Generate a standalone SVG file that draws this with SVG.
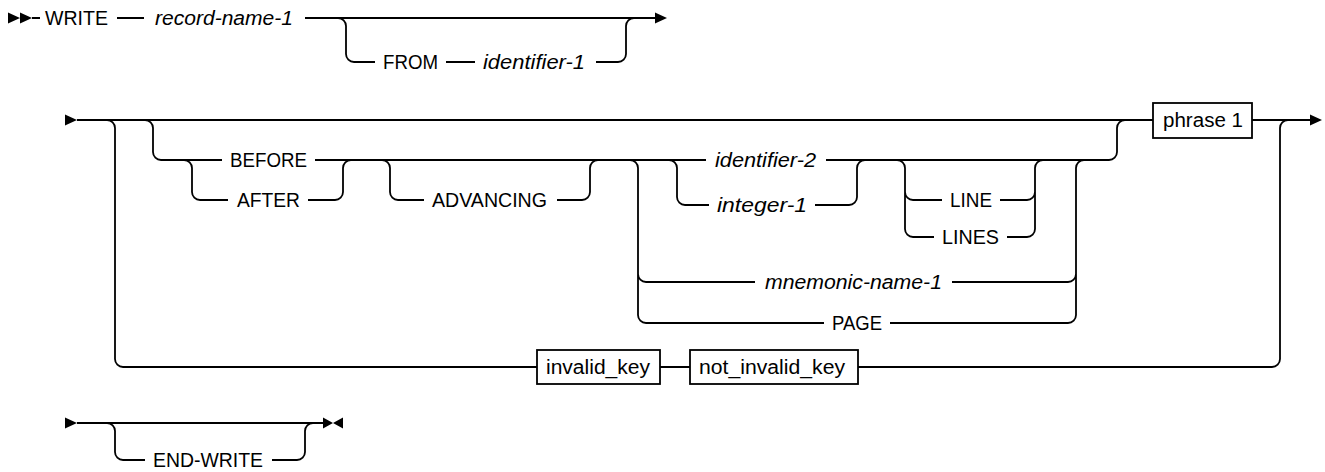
<svg xmlns="http://www.w3.org/2000/svg" width="1325" height="472" viewBox="0 0 1325 472">
<style>
.ln{fill:none;stroke:#000;stroke-width:1.8;stroke-linecap:butt}
.mk{fill:#000;stroke:none}
.bx{fill:#fff;stroke:#000;stroke-width:1.8}
text{font-family:"Liberation Sans",Arial,sans-serif;font-size:20px;fill:#000}
.it{font-style:italic}
</style>
<g id="connectors">
<!-- row 1 -->
<path class="ln" d="M32 18 L40 18 M117 18 L144 18 M305 18 L655 18"/>
<path class="ln" d="M338 18 A8 8 0 0 1 346 26 L346 54 A8 8 0 0 0 354 62 L375 62"/>
<path class="ln" d="M446 62 L475 62 M596 62 L618 62 A8 8 0 0 0 626 54 L626 26 A8 8 0 0 1 634 18"/>
<!-- row 2 main -->
<path class="ln" d="M77 120 L1153 120 M1252 120 L1310 120"/>
<!-- bottom bypass -->
<path class="ln" d="M107 120 A8 8 0 0 1 115 128 L115 359 A8 8 0 0 0 123 367 L537 367 M660 367 L690 367 M858 367 L1272 367 A8 8 0 0 0 1280 359 L1280 128 A8 8 0 0 1 1288 120"/>
<!-- big optional -->
<path class="ln" d="M145 120 A8 8 0 0 1 153 128 L153 152 A8 8 0 0 0 161 160 L222 160 M315 160 L706 160 M826 160 L1109 160 A8 8 0 0 0 1117 152 L1117 128 A8 8 0 0 1 1125 120"/>
<!-- AFTER -->
<path class="ln" d="M184 160 A8 8 0 0 1 192 168 L192 192 A8 8 0 0 0 200 200 L228 200 M308 200 L335 200 A8 8 0 0 0 343 192 L343 168 A8 8 0 0 1 351 160"/>
<!-- ADVANCING -->
<path class="ln" d="M382 160 A8 8 0 0 1 390 168 L390 192 A8 8 0 0 0 398 200 L424 200 M557 200 L582 200 A8 8 0 0 0 590 192 L590 168 A8 8 0 0 1 598 160"/>
<!-- mnemonic / PAGE -->
<path class="ln" d="M630 160 A8 8 0 0 1 638 168 L638 315 A8 8 0 0 0 646 323 L824 323 M638 274 A8 8 0 0 0 646 282 L755 282"/>
<path class="ln" d="M952 282 L1068 282 A8 8 0 0 0 1076 274 M890 323 L1068 323 A8 8 0 0 0 1076 315 L1076 168 A8 8 0 0 1 1084 160"/>
<!-- integer-1 -->
<path class="ln" d="M669 160 A8 8 0 0 1 677 168 L677 197 A8 8 0 0 0 685 205 L709 205 M815 205 L849 205 A8 8 0 0 0 857 197 L857 168 A8 8 0 0 1 865 160"/>
<!-- LINE / LINES -->
<path class="ln" d="M897 160 A8 8 0 0 1 905 168 L905 229 A8 8 0 0 0 913 237 L934 237 M905 192 A8 8 0 0 0 913 200 L942 200"/>
<path class="ln" d="M1000 200 L1027 200 A8 8 0 0 0 1035 192 M1007 237 L1027 237 A8 8 0 0 0 1035 229 L1035 168 A8 8 0 0 1 1043 160"/>
<!-- row 3 -->
<path class="ln" d="M77 423 L323 423"/>
<path class="ln" d="M107 423 A8 8 0 0 1 115 431 L115 452 A8 8 0 0 0 123 460 L145 460 M272 460 L297 460 A8 8 0 0 0 305 452 L305 431 A8 8 0 0 1 313 423"/>
<!-- markers -->
<path class="mk" d="M8 12.5 L20 18 L8 23.5 Z M20 12.5 L32 18 L20 23.5 Z"/>
<path class="mk" d="M655 12.5 L667 18 L655 23.5 Z"/>
<path class="mk" d="M65 114.5 L77 120 L65 125.5 Z"/>
<path class="mk" d="M1310 114.5 L1322 120 L1310 125.5 Z"/>
<path class="mk" d="M65 417.5 L77 423 L65 428.5 Z"/>
<path class="mk" d="M323 417.5 L333 423 L323 428.5 Z M343 417.5 L333 423 L343 428.5 Z"/>
</g>
<g id="n-write"><text x="45" y="25" textLength="63" lengthAdjust="spacingAndGlyphs">WRITE</text></g>
<g id="n-record-name-1"><text class="it" x="155" y="25" textLength="138" lengthAdjust="spacingAndGlyphs">record-name-1</text></g>
<g id="n-from"><text x="383" y="69" textLength="55" lengthAdjust="spacingAndGlyphs">FROM</text></g>
<g id="n-identifier-1"><text class="it" x="483" y="69" textLength="102" lengthAdjust="spacingAndGlyphs">identifier-1</text></g>
<g id="n-before"><text x="230" y="167" textLength="77" lengthAdjust="spacingAndGlyphs">BEFORE</text></g>
<g id="n-after"><text x="237" y="207" textLength="63" lengthAdjust="spacingAndGlyphs">AFTER</text></g>
<g id="n-advancing"><text x="432" y="207" textLength="115" lengthAdjust="spacingAndGlyphs">ADVANCING</text></g>
<g id="n-identifier-2"><text class="it" x="715" y="167" textLength="101" lengthAdjust="spacingAndGlyphs">identifier-2</text></g>
<g id="n-integer-1"><text class="it" x="717" y="212" textLength="90" lengthAdjust="spacingAndGlyphs">integer-1</text></g>
<g id="n-line"><text x="950" y="207" textLength="42" lengthAdjust="spacingAndGlyphs">LINE</text></g>
<g id="n-lines"><text x="942" y="244" textLength="57" lengthAdjust="spacingAndGlyphs">LINES</text></g>
<g id="n-mnemonic-name-1"><text class="it" x="765" y="289" textLength="177" lengthAdjust="spacingAndGlyphs">mnemonic-name-1</text></g>
<g id="n-page"><text x="832" y="330" textLength="50" lengthAdjust="spacingAndGlyphs">PAGE</text></g>
<g id="n-phrase1"><rect class="bx" x="1153" y="103" width="99" height="35"/><text x="1163" y="127" textLength="80" lengthAdjust="spacingAndGlyphs">phrase 1</text></g>
<g id="n-invalid-key"><rect class="bx" x="537" y="350" width="123" height="34"/><text x="546" y="374" textLength="104" lengthAdjust="spacingAndGlyphs">invalid_key</text></g>
<g id="n-not-invalid-key"><rect class="bx" x="690" y="350" width="168" height="34"/><text x="699" y="374" textLength="146" lengthAdjust="spacingAndGlyphs">not_invalid_key</text></g>
<g id="n-end-write"><text x="153" y="467" textLength="110" lengthAdjust="spacingAndGlyphs">END-WRITE</text></g>
</svg>
